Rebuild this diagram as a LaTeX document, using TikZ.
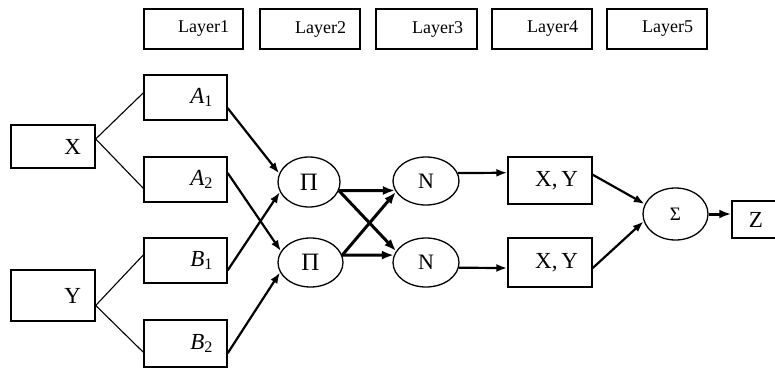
\documentclass[tikz,border=0pt]{standalone}
\usepackage{fontspec}
\setmainfont{Liberation Serif}
\usetikzlibrary{shapes.geometric,arrows.meta,calc}
\tikzset{
  box/.style={draw,line width=1.4pt,inner ysep=0pt,inner xsep=14pt,align=right,font=\fontsize{23}{23}\selectfont},
  laybox/.style={box,font=\fontsize{18}{18}\selectfont,minimum height=40pt},
  ell/.style={draw,ellipse,line width=1.3pt,inner sep=0pt,font=\fontsize{22}{22}\selectfont},
  thin/.style={line width=1.1pt},
  arr/.style={line width=2.2pt,-{Latex[length=11pt,width=8pt]}},
  tarr/.style={line width=3pt,-{Latex[length=12pt,width=9pt]}}
}
\begin{document}
\begin{tikzpicture}[x=1pt,y=-1pt]
\useasboundingbox (0,0) rectangle (775,369);
% layer boxes
\node[laybox,text width=71pt] (L1) at (193.5,29) {Layer1};
\node[laybox,text width=72pt] (L2) at (310,29) {Layer2};
\node[laybox,text width=73pt] (L3) at (426.5,29) {Layer3};
\node[laybox,text width=72pt] (L4) at (542,29) {Layer4};
\node[laybox,text width=72pt] (L5) at (657,29) {Layer5};
% inputs
\node[box,text width=56pt,minimum height=43pt] (X) at (53,146.5) {X};
\node[box,text width=56pt,minimum height=51pt] (Y) at (53,295.5) {Y};
% layer 1
\node[box,text width=55pt,minimum height=45pt] (A1) at (185.5,97.5) {\textit{A}\textsubscript{1}};
\node[box,text width=55pt,minimum height=45pt] (A2) at (185.5,179.5) {\textit{A}\textsubscript{2}};
\node[box,text width=55pt,minimum height=45pt] (B1) at (185.5,260.5) {\textit{B}\textsubscript{1}};
\node[box,text width=55pt,minimum height=47pt] (B2) at (185.5,343.5) {\textit{B}\textsubscript{2}};
% layer 2
\node[ell,minimum width=62pt,minimum height=50pt,font=\fontsize{25}{25}\selectfont] (P1) at (309,182) {Π};
\node[ell,minimum width=65pt,minimum height=49pt,font=\fontsize{25}{25}\selectfont] (P2) at (310.5,262.5) {Π};
% layer 3
\node[ell,minimum width=66pt,minimum height=48pt] (N1) at (426,181) {N};
\node[ell,minimum width=66pt,minimum height=49pt] (N2) at (426,262.5) {N};
% layer 4
\node[box,text width=56pt,minimum height=47pt] (XY1) at (550,180.5) {X,\,Y};
\node[box,text width=56pt,minimum height=49pt] (XY2) at (550,262.5) {X,\,Y};
% layer 5
\node[ell,minimum width=65pt,minimum height=52pt,font=\fontsize{19}{19}\selectfont] (S) at (675.5,214) {Σ};
\node[draw,line width=1.4pt,minimum width=48pt,minimum height=37pt,inner sep=0pt,font=\fontsize{23}{23}\selectfont] (Z) at (756,219.5) {Z};
% input fan-out
\draw[thin] ($(X.north east)!0.33!(X.south east)$) -- ($(A1.north west)!0.4!(A1.south west)$);
\draw[thin] ($(X.north east)!0.33!(X.south east)$) -- ($(A2.north west)!0.69!(A2.south west)$);
\draw[thin] ($(Y.north east)!0.69!(Y.south east)$) -- ($(B1.north west)!0.38!(B1.south west)$);
\draw[thin] ($(Y.north east)!0.69!(Y.south east)$) -- ($(B2.north west)!0.68!(B2.south west)$);
% layer1 -> layer2
\draw[arr] ($(A1.north east)!0.73!(A1.south east)$) -- (P1.164);
\draw[arr] ($(A2.north east)!0.36!(A2.south east)$) -- (P2.159);
\draw[arr] ($(B1.north east)!0.71!(B1.south east)$) -- (P1.199);
\draw[arr] ($(B2.north east)!0.70!(B2.south east)$) -- (P2.198);
% layer2 -> layer3
\draw[tarr] (P1.-16) -- (N1.197);
\draw[tarr] (P1.-16) -- (N2.159);
\draw[tarr] (P2.13) -- (N1.200);
\draw[tarr] (P2.13) -- (N2.167);
% layer3 -> layer4
\draw[arr] (N1.14) -- ($(XY1.north west)!0.34!(XY1.south west)$);
\draw[arr] (N2.-9) -- ($(XY2.north west)!0.61!(XY2.south west)$);
% layer4 -> layer5
\draw[arr] ($(XY1.north east)!0.38!(XY1.south east)$) -- (S.162);
\draw[arr] ($(XY2.north east)!0.61!(XY2.south east)$) -- (S.193);
\draw[tarr] (S.east) -- (S.east -| Z.west);
\end{tikzpicture}
\end{document}
